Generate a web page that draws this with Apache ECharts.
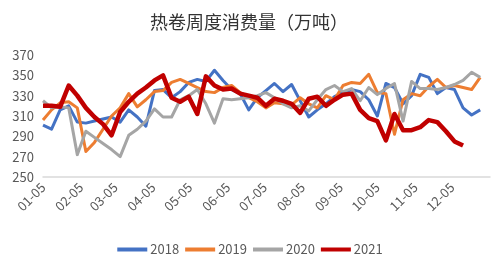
<!DOCTYPE html>
<html><head><meta charset="utf-8">
<script src="https://cdn.jsdelivr.net/npm/echarts@6/dist/echarts.min.js"></script>
<style>html,body{margin:0;padding:0;background:#fff}#c{width:500px;height:269px}</style>
</head><body><div id="c"></div>
<script>
var weekDates = ['01-05','01-12','01-19','01-26','02-02','02-09','02-16','02-23','03-02','03-09','03-16','03-23','03-30','04-06','04-13','04-20','04-27','05-04','05-11','05-18','05-25','06-01','06-08','06-15','06-22','06-29','07-06','07-13','07-20','07-27','08-03','08-10','08-17','08-24','08-31','09-07','09-14','09-21','09-28','10-05','10-12','10-19','10-26','11-02','11-09','11-16','11-23','11-30','12-07','12-14','12-21','12-28'];
var monthLabels = ['01-05','02-05','03-05','04-05','05-05','06-05','07-05','08-05','09-05','10-05','11-05','12-05'];
var yTicks = [250,270,290,310,330,350,370];
var s2018 = [301,297,316,320,304,303,305,307,309,304,316,309,300,335,336,328,334,343,346,344,355,345,336,332,316,328,335,342,334,341,325,309,316,322,329,333,336,334,326,310,342,338,322,330,351,348,332,338,336,318,311,316];
var s2019 = [306,316,323,324,318,275,284,297,310,318,332,319,326,334,335,343,346,342,338,334,333,338,340,333,328,324,318,323,322,321,328,322,318,330,326,340,343,342,351,333,332,292,326,332,330,339,346,338,340,338,336,348];
var s2020 = [325,318,319,318,272,295,289,283,277,270,291,297,305,317,309,309,326,330,336,322,303,327,326,327,328,330,333,328,322,318,320,315,326,336,340,334,337,325,338,331,337,342,305,344,337,337,336,338,341,345,353,348];
var s2021 = [320,320,319,340,330,318,309,302,291,314,324,332,338,345,350,328,324,329,312,349,340,336,337,332,330,328,320,327,325,322,313,327,329,320,326,331,332,316,308,305,286,312,296,296,299,306,304,295,285,281];
var seriesNames = ['2018','2019','2020','2021'];
var colors = ['#4472C4','#ED7D31','#A5A5A5','#C00000'];

function dayOf(s){var p=s.split('-');return (Date.UTC(2021,+p[0]-1,+p[1])-Date.UTC(2021,0,5))/86400000;}
var monthDays = monthLabels.map(dayOf);
function pts(arr){return arr.map(function(v,i){return [dayOf(weekDates[i]),v];});}
var all=[s2018,s2019,s2020,s2021];
var font='"Noto Sans CJK SC","Noto Sans",sans-serif';
var chart = echarts.init(document.getElementById('c'),null,{renderer:'canvas'});
chart.setOption({
  animation:false,
  title:{text:'热卷周度消费量（万吨）',left:244,top:8,textAlign:'center',textStyle:{fontSize:18,fontWeight:'normal',color:'#333333',fontFamily:font}},
  grid:{left:43,right:10,top:55,bottom:92,containLabel:false},
  xAxis:{type:'value',min:0,max:365,
    axisLine:{show:true,lineStyle:{color:'#D9D9D9',width:1.5}},
    axisTick:{show:false},splitLine:{show:false},
    axisLabel:{customValues:monthDays,rotate:45,margin:8,fontSize:13,color:'#595959',fontFamily:font,
      formatter:function(v){var i=monthDays.indexOf(v);return i>=0?monthLabels[i]:'';}}},
  yAxis:{type:'value',min:yTicks[0],max:yTicks[yTicks.length-1],interval:20,
    axisLine:{show:false},axisTick:{show:false},splitLine:{show:false},
    axisLabel:{fontSize:13,color:'#595959',fontFamily:font,margin:9}},
  legend:{data:seriesNames,bottom:8,left:'center',icon:'rect',itemWidth:30,itemHeight:4,itemGap:6,
    textStyle:{fontSize:13,color:'#595959',fontFamily:font,padding:[0,0,0,-2]}},
  series:seriesNames.map(function(n,k){return {name:n,type:'line',data:pts(all[k]),showSymbol:false,symbol:'none',
    lineStyle:{width:k===3?4.5:3,color:colors[k],join:'round'},itemStyle:{color:colors[k]},z:k+2};})
});
</script></body></html>
